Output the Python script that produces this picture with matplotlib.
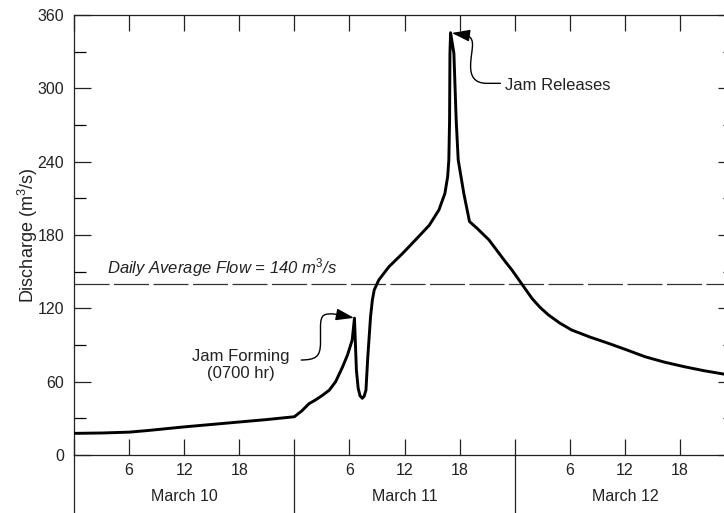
import numpy as np
import matplotlib
matplotlib.use('Agg')
import matplotlib.pyplot as plt
from matplotlib.path import Path
from matplotlib.patches import FancyArrowPatch

plt.rcParams['font.family'] = ['Liberation Sans', 'DejaVu Sans']
plt.rcParams['mathtext.fontset'] = 'custom'
plt.rcParams['mathtext.rm'] = 'Liberation Sans'
plt.rcParams['mathtext.it'] = 'Liberation Sans:italic'

hours = [0, 3, 6, 8, 10, 12, 15, 18, 21, 24.0,
         24.8, 25.6, 26.3, 27.0, 27.8, 28.5, 29.25, 29.8, 30.3, 30.55,
         30.76, 30.95, 31.15, 31.4, 31.6, 31.8, 32.0, 32.3, 32.5, 32.7,
         33.2, 34.3, 35.8, 37.2, 38.7, 39.75, 40.4, 40.7, 40.83, 40.91,
         40.95, 41.02, 41.38, 41.63, 41.85, 42.46, 43.08, 43.9, 45.2, 46.3,
         47.0, 47.7, 48.6, 49.9, 50.8, 51.7, 52.9, 54.2, 56.2, 58.2,
         60.2, 62.2, 64.3, 66.5, 68.6, 70.7]
discharge = [17.7, 18, 18.7, 20, 21.5, 23, 25, 27, 29, 31.3,
             36, 42, 45, 48.5, 53, 60, 72, 82, 94, 112,
             69.5, 54.8, 48.5, 46.4, 48, 53, 80, 113, 126.8, 135,
             143.2, 154, 165, 176, 188, 200.5, 214, 227.7, 241.4, 274,
             328.7, 345.5, 328.7, 274, 241.4, 214, 191, 185.5, 176, 165,
             158, 151.4, 141.8, 128, 120.5, 114.5, 108, 102.3, 96.5, 91.4,
             86, 80.4, 76, 72.2, 69, 66.3]

daily_avg = 140
day_names = ['March 10', 'March 11', 'March 12']
hour_ticks = np.arange(0, 73, 6)
q_ticks = np.arange(0, 361, 60)

fig = plt.figure(figsize=(7.24, 5.13), dpi=100)
ax = fig.add_axes([74 / 724, 58 / 513, 661 / 724, 440 / 513])

ax.plot(hours, discharge, color='k', lw=2.1, solid_joinstyle='round', zorder=3)
ax.axhline(daily_avg, color='#333333', lw=0.9, linestyle=(0, (28, 3.6)), zorder=2)
ax.text(3.6, daily_avg + 4, 'Daily Average Flow = 140 m$^{\\mathit{3}}$/s',
        style='italic', fontsize=12, color='#222222', va='bottom', ha='left')

ax.set_xlim(0, 72)
ax.set_ylim(0, 360)

# x ticks: hour of day, day boundaries unlabelled
ax.set_xticks(hour_ticks)
ax.set_xticklabels(['' if h % 24 == 0 else str(h % 24) for h in hour_ticks])
ax.set_yticks(q_ticks)
ax.set_yticks(np.arange(30, 360, 60), minor=True)
ax.tick_params(axis='x', which='major', direction='in', length=11.5, width=0.9,
               top=True, bottom=True, pad=6, labelsize=11.5, colors='#222222')
ax.tick_params(axis='y', which='major', direction='in', length=12, width=0.9,
               left=True, right=True, pad=7, labelsize=11.5, colors='#222222')
ax.tick_params(axis='y', which='minor', direction='in', length=8.5, width=0.9,
               left=True, right=True)
for s in ax.spines.values():
    s.set_linewidth(0.9)
    s.set_color('#222222')

ax.set_ylabel('Discharge (m$^3$/s)', fontsize=13, color='#222222')
ax.yaxis.set_label_coords(-0.052, 0.5)

# day separators below the axis
xt = ax.get_xaxis_transform()
for d in range(4):
    ax.plot([d * 24, d * 24], [0, -0.16], transform=xt, clip_on=False,
            color='#222222', lw=0.9)
for i, name in enumerate(day_names):
    ax.text(i * 24 + 12, -0.095, name, transform=xt, ha='center', va='center',
            fontsize=11.5, color='#222222')

# annotations
ax.text(18.2, 73.6, 'Jam Forming\n(0700 hr)', ha='center', va='center',
        fontsize=12, color='#222222', linespacing=1.15)
p1 = Path([(24.75, 77.7), (26.3, 78.0), (26.85, 80.0), (26.85, 92.0),
           (26.85, 105.0),
           (26.85, 115.6), (27.3, 115.6), (28.3, 115.4),
           (30.5, 112.2)],
          [Path.MOVETO, Path.CURVE4, Path.CURVE4, Path.CURVE4,
           Path.LINETO,
           Path.CURVE4, Path.CURVE4, Path.CURVE4,
           Path.LINETO])
ax.add_patch(FancyArrowPatch(path=p1, arrowstyle='-|>,head_length=0.55,head_width=0.18',
                             mutation_scale=20, lw=1.0, color='k',
                             shrinkA=0, shrinkB=0, zorder=4))

ax.text(46.9, 302, 'Jam Releases', ha='left', va='center', fontsize=12, color='#222222')
p2 = Path([(46.45, 304.1), (44.9, 304.1),
           (43.6, 304.3), (43.2, 310.0), (43.2, 318.0),
           (43.2, 326.0), (43.45, 332.0), (43.4, 337.0),
           (43.35, 342.0), (42.9, 343.6), (42.5, 343.8),
           (41.15, 345.3)],
          [Path.MOVETO, Path.LINETO,
           Path.CURVE4, Path.CURVE4, Path.CURVE4,
           Path.CURVE4, Path.CURVE4, Path.CURVE4,
           Path.CURVE4, Path.CURVE4, Path.CURVE4,
           Path.LINETO])
ax.add_patch(FancyArrowPatch(path=p2, arrowstyle='-|>,head_length=0.55,head_width=0.18',
                             mutation_scale=20, lw=1.0, color='k',
                             shrinkA=0, shrinkB=0, zorder=4))

fig.savefig('out.png', dpi=100)
